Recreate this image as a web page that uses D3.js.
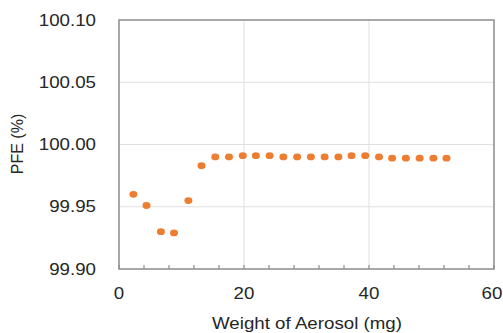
<!DOCTYPE html>
<meta charset='utf-8'>
<div class="CHANGE"></div>
<script src="https://d3js.org/d3.v7.min.js"></script>
<style>
	body { margin: 0; background: #fff; }
	.grid line { stroke: #e0e0e0; stroke-width: 1px; }
	.frame { fill: none; stroke: #8c8c8c; stroke-width: 1.5px; }
	.lbl { font-family: "Liberation Sans", Arial, sans-serif; font-size: 16px; fill: #262626; }
	.dot { fill: #ED7D31; }
</style>
<script>
	// data
	var weight = [2.3, 4.4, 6.7, 8.8, 11.1, 13.2, 15.4, 17.6, 19.8, 21.9, 24.1, 26.3,
	              28.5, 30.7, 32.9, 35.1, 37.2, 39.4, 41.6, 43.7, 45.9, 48.1, 50.3, 52.4];
	var pfe = [99.960, 99.951, 99.930, 99.929, 99.955, 99.983, 99.990, 99.990, 99.991, 99.991,
	           99.991, 99.990, 99.990, 99.990, 99.990, 99.990, 99.991, 99.991, 99.990, 99.989,
	           99.989, 99.989, 99.989, 99.989];
	var xTicks = [0, 20, 40, 60];
	var yTicks = [99.90, 99.95, 100.00, 100.05, 100.10];
	var xMinor = d3.range(0, 61, 4);

	var width = 503, height = 333;
	var pLeft = 119, pRight = 494, pTop = 20, pBottom = 269;
	var sx = 1.17; // text in the reference is stretched sideways

	var svg = d3.select(".CHANGE").append("svg")
		.attr("width", width)
		.attr("height", height);

	var x = d3.scaleLinear().domain([0, 60]).range([pLeft, pRight]);
	var y = d3.scaleLinear().domain([99.90, 100.10]).range([pBottom, pTop]);

	// grid
	var grid = svg.append("g").attr("class", "grid");
	grid.selectAll(".gy").data(yTicks.slice(1, -1)).enter().append("line")
		.attr("x1", pLeft).attr("x2", pRight)
		.attr("y1", function(d) { return y(d); }).attr("y2", function(d) { return y(d); });
	grid.selectAll(".gx").data(xTicks.slice(1, -1)).enter().append("line")
		.attr("y1", pTop).attr("y2", pBottom)
		.attr("x1", function(d) { return x(d); }).attr("x2", function(d) { return x(d); });

	// frame
	svg.append("rect").attr("class", "frame")
		.attr("x", pLeft).attr("y", pTop)
		.attr("width", pRight - pLeft).attr("height", pBottom - pTop);

	// minor ticks on x, pointing inward
	svg.append("g").selectAll("line").data(xMinor).enter().append("line")
		.attr("x1", function(d) { return x(d); }).attr("x2", function(d) { return x(d); })
		.attr("y1", pBottom).attr("y2", pBottom - 4)
		.attr("stroke", "#8c8c8c").attr("stroke-width", 1.2);

	// tick labels
	svg.append("g").selectAll("text").data(yTicks).enter().append("text")
		.attr("class", "lbl")
		.attr("text-anchor", "end")
		.attr("dy", "0.35em")
		.attr("transform", function(d) { return "translate(" + (pLeft - 23) + "," + y(d) + ") scale(" + sx + ",1)"; })
		.text(function(d) { return d3.format(".2f")(d); });

	svg.append("g").selectAll("text").data(xTicks).enter().append("text")
		.attr("class", "lbl")
		.attr("text-anchor", "middle")
		.attr("transform", function(d) { return "translate(" + (x(d) - (d == 60 ? 2 : 0)) + ",299) scale(" + sx + ",1)"; })
		.text(function(d) { return d; });

	// axis titles
	svg.append("text").attr("class", "lbl")
		.attr("text-anchor", "middle")
		.attr("transform", "translate(307,329) scale(" + sx + ",1)")
		.text("Weight of Aerosol (mg)");
	svg.append("text").attr("class", "lbl")
		.attr("text-anchor", "middle")
		.attr("transform", "translate(23,144) rotate(-90)")
		.text("PFE (%)");

	// points
	svg.append("g").selectAll("ellipse").data(weight).enter().append("ellipse")
		.attr("class", "dot")
		.attr("cx", function(d) { return x(d); })
		.attr("cy", function(d, i) { return y(pfe[i]); })
		.attr("rx", 4).attr("ry", 3.4);
</script>
